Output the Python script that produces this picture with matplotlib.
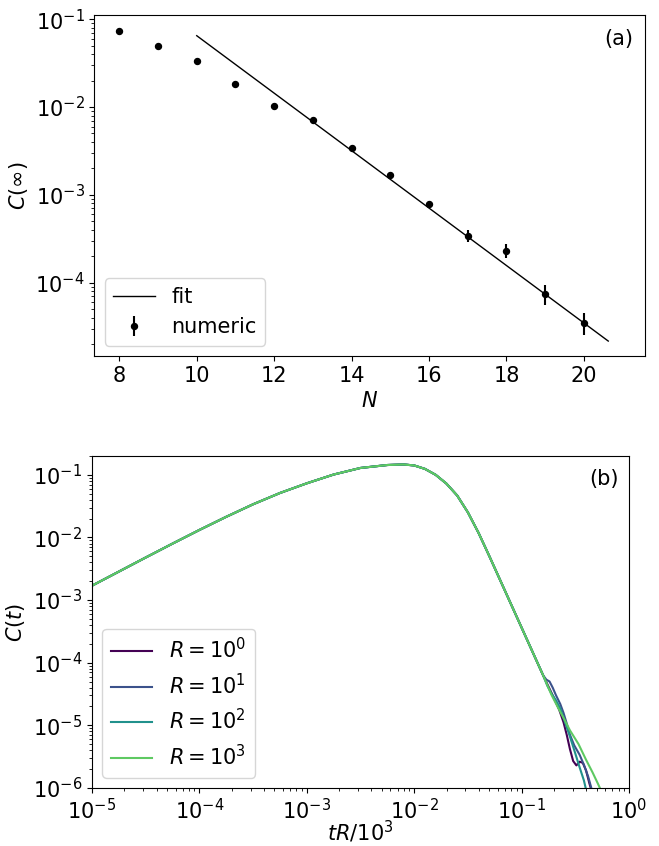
import matplotlib
matplotlib.use("Agg")
import matplotlib.pyplot as plt
import numpy as np

plt.rcParams['font.size'] = 15

# painel (a): C(inf) vs N
n_vals = [8, 9, 10, 11, 12, 13, 14, 15, 16, 17, 18, 19, 20]
c_inf = [0.0743, 0.050, 0.0332, 0.0185, 0.01035, 0.00711, 0.0034, 0.00167,
         0.000788, 0.000343, 0.000232, 7.5e-5, 3.5e-5]
c_err = [4e-4, 3e-4, 3e-4, 2e-4, 1.5e-4, 1e-4, 8e-5, 5e-5,
         4e-5, 5.5e-5, 4e-5, 1.9e-5, 1e-5]
fit_n = [10, 20.63]
fit_c = [0.065, 2.16e-5]

# painel (b): C(t), parte comum das curvas (log10)
log_t_common = [-5.0, -4.75, -4.5, -4.25, -4.0, -3.75, -3.5, -3.25, -3.0, -2.75,
                -2.5, -2.25, -2.1, -2.0, -1.9, -1.8, -1.7, -1.6, -1.5, -1.4,
                -1.3, -1.2, -1.1, -1.0, -0.9, -0.8]
log_c_common = [-2.77, -2.545, -2.32, -2.098, -1.88, -1.67, -1.47, -1.29, -1.135, -0.995,
                -0.89, -0.843, -0.834, -0.85, -0.905, -1.0, -1.14, -1.33, -1.60, -1.93,
                -2.30, -2.68, -3.06, -3.44, -3.82, -4.20]

# caudas ruidosas de cada R (log10)
tail_t = {
    0: [-0.75, -0.70, -0.65, -0.61, -0.58, -0.55, -0.52, -0.49, -0.46, -0.43, -0.40, -0.37, -0.34],
    1: [-0.77, -0.74, -0.71, -0.68, -0.64, -0.61, -0.58, -0.55, -0.51, -0.46, -0.42, -0.38, -0.335],
    2: [-0.76, -0.72, -0.68, -0.64, -0.60, -0.55, -0.50, -0.46, -0.42, -0.39],
    3: [-0.76, -0.72, -0.66, -0.61, -0.55, -0.47, -0.40, -0.34, -0.29, -0.25],
}
tail_c = {
    0: [-4.38, -4.56, -4.75, -4.95, -5.15, -5.38, -5.57, -5.64, -5.58, -5.60, -5.72, -5.92, -6.1],
    1: [-4.27, -4.30, -4.40, -4.52, -4.66, -4.80, -4.97, -5.15, -5.32, -5.47, -5.63, -5.82, -6.1],
    2: [-4.37, -4.50, -4.60, -4.73, -4.93, -5.18, -5.45, -5.67, -5.88, -6.1],
    3: [-4.36, -4.52, -4.72, -4.88, -5.08, -5.30, -5.55, -5.75, -5.93, -6.08],
}
r_exps = [0, 1, 2, 3]
r_colors = ['#440154', '#3b528b', '#21918c', '#5ec962']

fig = plt.figure(figsize=(6.59, 8.46), dpi=100)

# (a)
ax1 = fig.add_axes([0.1431, 0.5792, 0.8357, 0.4034])
ax1.plot(fit_n, fit_c, color='black', lw=1, label='fit')
ax1.errorbar(n_vals, c_inf, yerr=c_err, fmt='o', color='black', ms=4.3, label='numeric')
ax1.set_yscale('log')
ax1.set_xlim(7.354, 21.58)
ax1.set_ylim(1.46e-5, 0.1127)
ax1.set_xlabel('$N$')
ax1.set_ylabel(r'$C(\infty)$')
ax1.text(0.978, 0.958, '(a)', transform=ax1.transAxes, ha='right', va='top')
ax1.legend(loc='lower left')

# (b)
ax2 = fig.add_axes([0.1396, 0.0686, 0.8149, 0.3924])
for r, col in zip(r_exps, r_colors):
    lt = np.array(log_t_common + tail_t[r])
    lc = np.array(log_c_common + tail_c[r])
    ax2.plot(10**lt, 10**lc, color=col, lw=1.5, label=f'$R={{10}}^{r}$')
ax2.set_xscale('log')
ax2.set_yscale('log')
ax2.set_xlim(1e-5, 1)
ax2.set_ylim(1e-6, 0.2)
ax2.set_xlabel('$tR/10^3$', labelpad=-3)
ax2.set_ylabel('$C(t)$')
ax2.text(0.98, 0.962, '(b)', transform=ax2.transAxes, ha='right', va='top')
ax2.legend(loc='lower left')

fig.savefig('out.png', dpi=100)
